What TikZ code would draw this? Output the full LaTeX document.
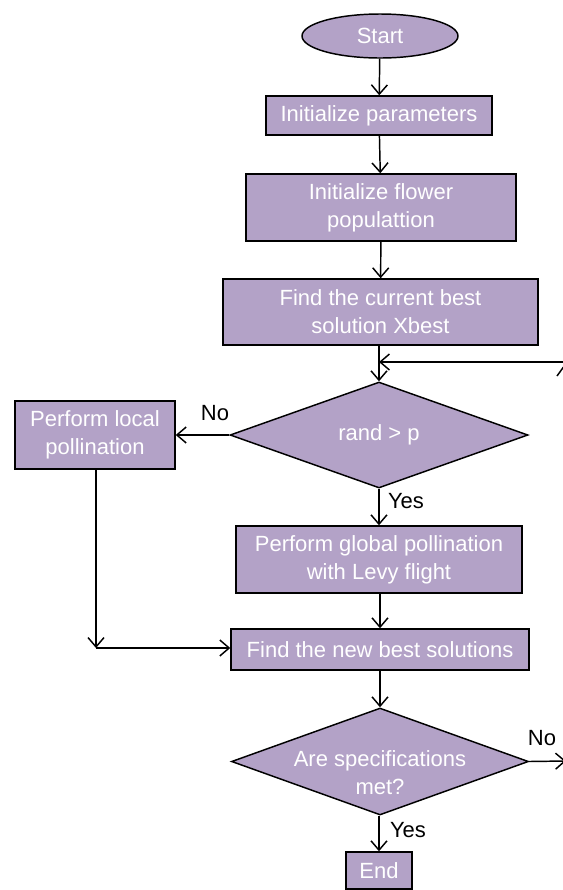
\documentclass[tikz,border=0pt]{standalone}
\usepackage{fontspec}
\setmainfont{Liberation Sans}
\usetikzlibrary{shapes.geometric,arrows.meta}
\definecolor{lavender}{HTML}{B3A2C7}
\begin{document}
\begin{tikzpicture}[x=0.75pt,y=-0.75pt,
  every node/.style={font=\fontsize{16.5}{21}\selectfont},
  proc/.style={draw=black,line width=1.1pt,fill=lavender,text=white,
    rectangle,align=center,inner sep=0pt},
  term/.style={draw=black,line width=1.1pt,fill=lavender,text=white,
    ellipse,inner sep=0pt,minimum width=117pt,minimum height=33pt},
  decision/.style={draw=black,line width=1.1pt,fill=lavender,text=white,
    diamond,align=center,inner sep=0pt,aspect=2.8},
  arr/.style={line width=1.1pt,-{Straight Barb[length=7pt,width=12pt]}},
  conn/.style={line width=1.1pt},
  lbl/.style={text=black,inner sep=0pt}]
\useasboundingbox (0,0) rectangle (563,890);

% process chain
\node[term] (start) at (380,36) {Start};
\node[proc,minimum width=169.5pt,minimum height=29.25pt] (init) at (379,115.5) {Initialize parameters};
\node[proc,minimum width=202.5pt,minimum height=50.25pt] (pop) at (381,207.5) {Initialize flower\\populattion};
\node[proc,minimum width=236.25pt,minimum height=49.5pt] (best) at (380.5,312) {Find the current best\\solution Xbest};
\node[decision,minimum width=223.5pt,minimum height=79.5pt] (d1) at (379,435) {rand \textgreater{} p};
\node[proc,minimum width=120pt,minimum height=51pt] (local) at (95,435) {Perform local\\pollination};
\node[proc,minimum width=214.5pt,minimum height=50.25pt] (global) at (379,559.5) {Perform global pollination\\with Levy flight};
\node[proc,minimum width=223.5pt,minimum height=30.75pt] (newbest) at (380,649.5) {Find the new best solutions};
\node[decision,minimum width=222.75pt,minimum height=80.25pt,
  label={[text=white,align=center,inner sep=0pt,yshift=-8pt]center:Are specifications\\met?}] (d2) at (380,761.5) {};
\node[proc,minimum width=49.5pt,minimum height=27.75pt] (end) at (379,870.5) {End};

% helper points
\coordinate (loopR) at (566,362);
\coordinate (corner) at (96,648);
\coordinate (noR) at (566,761);

% connectors
\draw[arr] (start) -- (init);
\draw[arr] (init) -- (pop);
\draw[arr] (pop) -- (best);
\draw[arr] (best.south -| d1.north) -- (d1.north);
\draw[arr] (loopR) -- (d1.north |- loopR);
\draw[conn] (557,376) -- (563.5,367);
\draw[arr] (d1.west) -- (local.east);
\draw[arr] (local.south -| corner) -- (corner);
\draw[arr] (corner) -- (newbest.west |- corner);
\draw[arr] (d1.south) -- (global.north -| d1.south);
\draw[arr] (global.south -| newbest.north) -- (newbest.north);
\draw[arr] (newbest.south -| d2.north) -- (d2.north);
\draw[arr] (d2.east) -- (noR);
\draw[arr] (d2.south -| end.north) -- (end.north);

% branch labels
\node[lbl] (no1) at (215,413) {No};
\node[lbl] (yes1) at (406,501) {Yes};
\node[lbl] (no2) at (542,738) {No};
\node[lbl] (yes2) at (408,830) {Yes};
\end{tikzpicture}
\end{document}
